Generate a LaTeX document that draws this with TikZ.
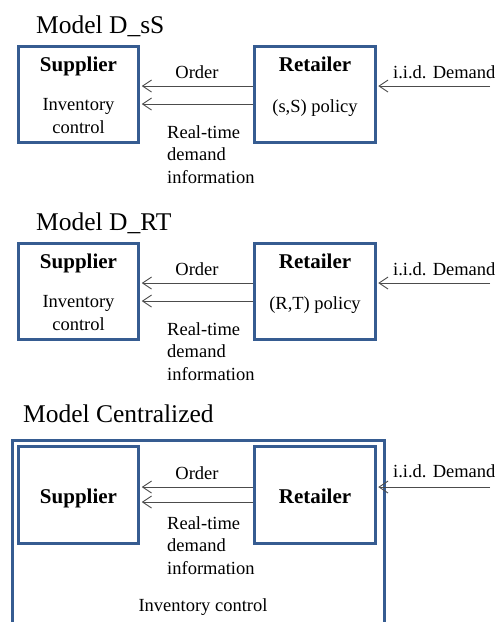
\documentclass[tikz,border=0pt]{standalone}
\usepackage{fontspec}
\setmainfont{Liberation Serif}
\usetikzlibrary{arrows.meta, positioning}
\definecolor{boxblue}{RGB}{54,92,145}

\begin{document}
\begin{tikzpicture}[x=1pt, y=-1pt, font=\fontsize{18.5}{22.5}\selectfont]
    \tikzstyle{box}=[draw=boxblue, line width=3pt, minimum width=120.5pt, minimum height=96.5pt, inner sep=0pt]
    \tikzstyle{flow}=[draw=black!70, line width=0.9pt, -{Straight Barb[length=9pt,width=12pt]}, shorten >=1.5pt]
    \tikzstyle{heading}=[anchor=base west, inner sep=0pt, font=\fontsize{25.5}{30}\selectfont]
    \tikzstyle{actor}=[anchor=base, inner sep=0pt, font=\fontsize{21}{25}\selectfont\bfseries]
    \tikzstyle{lbl}=[anchor=base, inner sep=0pt, align=center]
    \tikzstyle{info}=[anchor=base west, inner sep=0pt, align=left]

    \useasboundingbox (0,0) rectangle (496,622);

    % Model D_sS and Model D_RT (anchor=base sits on the last text line)
    \foreach \m/\pol/\ttl/\dy in {1/{(s,S)}/{D\_sS}/0, 2/{(R,T)}/{D\_RT}/197} {
        \node[heading] (T\m) at (36, 33+\dy) {Model \ttl};
        \node[box] (S\m) at (78.5, 94.5+\dy) {};
        \node[box] (R\m) at (315, 94.5+\dy) {};
        \node[actor] (S\m-head) at (78.5, 71+\dy) {Supplier};
        \node[actor] (R\m-head) at (315, 71+\dy) {Retailer};
        \node[lbl] (S\m-txt) at (78.5, 133+\dy) {Inventory\\control};
        \node[lbl] (R\m-txt) at (315, 112+\dy) {\pol{} policy};
        \draw[flow] ([yshift=8.5pt]R\m.west) -- ([yshift=8.5pt]S\m.east);
        \draw[flow] ([yshift=-9.5pt]R\m.west) -- ([yshift=-9.5pt]S\m.east);
        \node[lbl] (O\m) at (197, 78+\dy) {Order};
        \node[info] (I\m) at (167, 183+\dy) {Real-time\\demand\\information};
        \coordinate (D\m) at (490, 86+\dy);
        \draw[flow] (D\m) -- (R\m.east |- D\m);
        \node[lbl, anchor=base west] (L\m) at (393, 78+\dy) {i.i.d. Demand};
    }

    % Model Centralized
    \node[heading] (T3) at (23, 422) {Model Centralized};
    \node[box, anchor=north west, minimum width=372.5pt, minimum height=300pt] (C) at (10.5, 438.5) {};
    \node[box] (S3) at (78.5, 495) {};
    \node[box] (R3) at (315, 495) {};
    \node[actor] (S3-head) at (78.5, 503) {Supplier};
    \node[actor] (R3-head) at (315, 503) {Retailer};
    \draw[flow] ([yshift=8pt]R3.west) -- ([yshift=8pt]S3.east);
    \draw[flow] ([yshift=-7pt]R3.west) -- ([yshift=-7pt]S3.east);
    \node[lbl] (O3) at (197, 479) {Order};
    \node[info] (I3) at (167, 574) {Real-time\\demand\\information};
    \coordinate (D3) at (490, 487);
    \draw[flow] (D3) -- (R3.east |- D3);
    \node[lbl, anchor=base west] (L3) at (393, 477) {i.i.d. Demand};
    \node[lbl] (C-txt) at (203, 611) {Inventory control};
\end{tikzpicture}
\end{document}
